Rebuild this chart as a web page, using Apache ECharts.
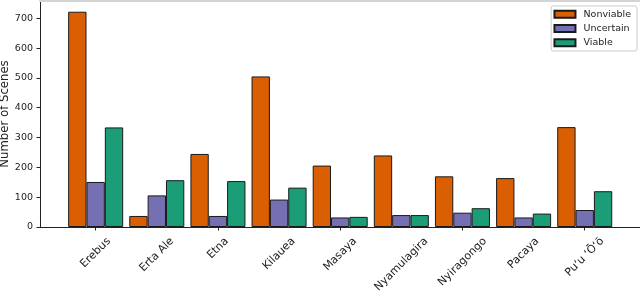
<!DOCTYPE html>
<html>
<head>
<meta charset="utf-8">
<script src="https://cdn.jsdelivr.net/npm/echarts@6/dist/echarts.min.js"></script>
<style>html,body{margin:0;padding:0;background:#fff}#c{width:640px;height:293px}</style>
</head>
<body>
<div id="c"></div>
<script>
// ---- data ----
const categories = ['Erebus', 'Erta Ale', 'Etna', 'Kilauea', 'Masaya', 'Nyamulagira', 'Nyiragongo', 'Pacaya', 'Puʻu ʻŌʻō'];
const nonviable = [722, 37, 245, 505, 206, 240, 170, 164, 335];
const uncertain = [151, 106, 37, 92, 32, 40, 48, 32, 57];
const viable    = [334, 157, 154, 132, 34, 40, 63, 45, 120];
const yTicks = [0, 100, 200, 300, 400, 500, 600, 700];
const yMax = 758;

// ---- matplotlib-like centred rotated tick labels ----
const LABEL_FONT = '11px "DejaVu Sans"';
const ctx = document.createElement('canvas').getContext('2d');
ctx.font = LABEL_FONT;

function renderLabel(params, api) {
  const name = categories[params.dataIndex];
  const p = api.coord([api.value(0), 0]);
  const w = ctx.measureText(name).width;
  return {
    type: 'text',
    x: p[0],
    y: p[1] + 12.4 + 0.354 * w,
    rotation: Math.PI / 4,
    silent: true,
    style: { text: name, x: 0, y: 0, align: 'center', verticalAlign: 'middle', font: LABEL_FONT, fill: '#222' }
  };
}

const TOP = 1, BOTTOM = 66;
const chart = echarts.init(document.getElementById('c'), null, { renderer: 'canvas' });
const border = { borderColor: '#1a1a1a', borderWidth: 1 };
chart.setOption({
  animation: false,
  textStyle: { fontFamily: 'DejaVu Sans' },
  grid: [
    { left: 40, right: 0, top: TOP, bottom: BOTTOM, outerBoundsMode: 'none', containLabel: false },
    { left: 65.1, right: 24.7, top: TOP, bottom: BOTTOM, outerBoundsMode: 'none', containLabel: false }
  ],
  legend: {
    orient: 'vertical', right: 3, top: 6,
    padding: [2.2, 6, 2.2, 2.3],
    itemWidth: 21, itemHeight: 7, itemGap: 2.3, icon: 'rect',
    backgroundColor: '#fff', borderColor: '#cccccc', borderWidth: 1, borderRadius: 2,
    textStyle: { fontSize: 9.5, lineHeight: 12, color: '#222', padding: [0, 0, 0, 3] },
    data: ['Nonviable', 'Uncertain', 'Viable']
  },
  xAxis: [
    { gridIndex: 0, type: 'value', min: 0, max: 1, position: 'bottom',
      axisLine: { show: true, lineStyle: { color: '#222', width: 1 } },
      axisTick: { show: false }, axisLabel: { show: false }, splitLine: { show: false } },
    { gridIndex: 0, type: 'value', min: 0, max: 1, position: 'top',
      axisLine: { show: true, lineStyle: { color: '#d4d4d4', width: 2 } },
      axisTick: { show: false }, axisLabel: { show: false }, splitLine: { show: false } },
    { gridIndex: 1, type: 'category', data: categories, position: 'bottom',
      axisLine: { show: false },
      axisTick: { show: true, alignWithLabel: true, length: 3.5, lineStyle: { color: '#222' } },
      axisLabel: { show: false },
      splitLine: { show: false } }
  ],
  yAxis: [
    { gridIndex: 0, type: 'value', min: 0, max: yMax,
      name: 'Number of Scenes', nameLocation: 'middle', nameGap: 29.5, nameMoveOverlap: false,
      nameTextStyle: { fontSize: 11.7, color: '#222' },
      axisLine: { show: true, lineStyle: { color: '#222', width: 1 } },
      axisTick: { show: true, length: 3.5, customValues: yTicks, lineStyle: { color: '#222' } },
      axisLabel: { customValues: yTicks, fontSize: 9.5, color: '#222', margin: 7 },
      splitLine: { show: false } },
    { gridIndex: 1, type: 'value', min: 0, max: yMax, show: false, splitLine: { show: false } }
  ],
  series: [
    { name: 'Nonviable', type: 'bar', xAxisIndex: 2, yAxisIndex: 1, data: nonviable,
      barWidth: '30%', barGap: '0%', itemStyle: Object.assign({ color: '#d95f02' }, border) },
    { name: 'Uncertain', type: 'bar', xAxisIndex: 2, yAxisIndex: 1, data: uncertain,
      barWidth: '30%', barGap: '0%', itemStyle: Object.assign({ color: '#7570b3' }, border) },
    { name: 'Viable', type: 'bar', xAxisIndex: 2, yAxisIndex: 1, data: viable,
      barWidth: '30%', barGap: '0%', itemStyle: Object.assign({ color: '#1b9e77' }, border) },
    { name: 'tickLabels', type: 'custom', xAxisIndex: 2, yAxisIndex: 1, clip: false, silent: true,
      data: categories.map((c, i) => [i]), renderItem: renderLabel }
  ]
});
</script>
</body>
</html>
